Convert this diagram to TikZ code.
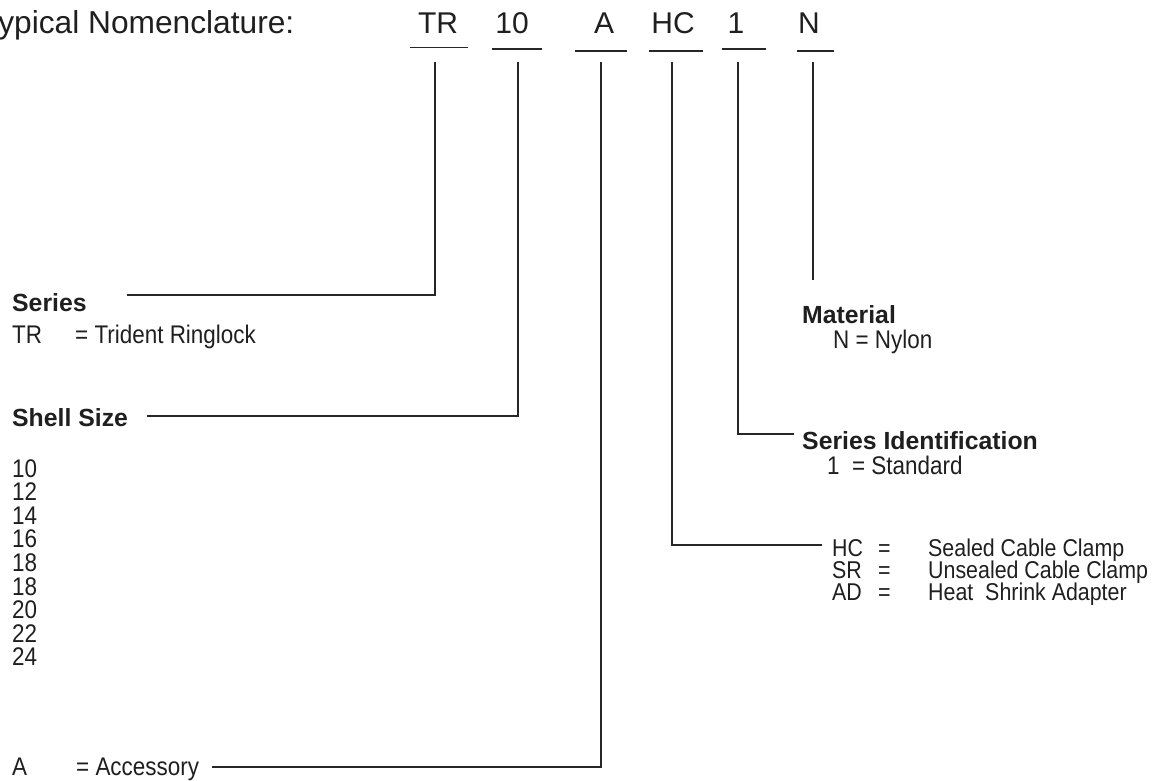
\documentclass[tikz,border=0pt]{standalone}
\usepackage{fontspec}
\setmainfont{Liberation Sans}
\newfontfamily\cond[FakeStretch=0.88]{Liberation Sans}
\begin{document}
\begin{tikzpicture}[x=1pt,y=-1pt,
  lbl/.style={anchor=base west, inner sep=0pt, text=black!88, font=\cond\fontsize{25.5}{30}\selectfont},
  lbs/.style={anchor=base west, inner sep=0pt, text=black!88, font=\cond\fontsize{24.3}{27}\selectfont},
  hdr/.style={anchor=base west, inner sep=0pt, text=black!88, font=\bfseries\fontsize{24.8}{29}\selectfont},
  codetxt/.style={anchor=base, inner sep=0pt, text=black!88, font=\fontsize{30}{36}\selectfont},
  ln/.style={line width=1.2pt, draw=black!85},
  ulthin/.style={line width=1pt, draw=black!85},
  ulthick/.style={line width=2pt, draw=black!85}]
\useasboundingbox (0,0) rectangle (1154,780);
% title
\node[anchor=base west, inner sep=0pt, text=black!88, font=\fontsize{31.7}{38}\selectfont] (title) at (-19.5,33) {Typical Nomenclature:};
% codes
\node[codetxt] (cTR) at (438,33) {TR};
\node[codetxt] (c10) at (512,33) {10};
\node[codetxt] (cA) at (604,33) {A};
\node[codetxt] (cHC) at (673,33) {HC};
\node[codetxt] (c1) at (736,33) {1};
\node[codetxt] (cN) at (809,33) {N};
% underlines
\draw[ulthin] (410,47) -- (468,47);
\draw[ulthick] (492,49) -- (542,49);
\draw[ulthick] (575,51) -- (627,51);
\draw[ulthick] (649,51) -- (703,51);
\draw[ulthick] (722,49) -- (766,49);
\draw[ulthick] (797,51) -- (834,51);
% connector points
\coordinate (trA) at (435,62);  \coordinate (trB) at (435,295); \coordinate (trC) at (127,295);
\coordinate (szA) at (518,62);  \coordinate (szB) at (518,416); \coordinate (szC) at (147,416);
\coordinate (acA) at (601,62);  \coordinate (acB) at (601,767); \coordinate (acC) at (212,767);
\coordinate (hcA) at (672,62);  \coordinate (hcB) at (672,545); \coordinate (hcC) at (822,545);
\coordinate (idA) at (738,62);  \coordinate (idB) at (738,434); \coordinate (idC) at (794,434);
\coordinate (nA) at (813,62);   \coordinate (nB) at (813,280);
\draw[ln] (trA) -- (trB) -- (trC);
\draw[ln] (szA) -- (szB) -- (szC);
\draw[ln] (acA) -- (acB) -- (acC);
\draw[ln] (hcA) -- (hcB) -- (hcC);
\draw[ln] (idA) -- (idB) -- (idC);
\draw[line width=2.6pt, draw=black!85] (nA) -- (nB);
% left texts
\node[hdr] (series) at (12,311) {Series};
\node[lbl] (trk) at (12,343) {TR};
\node[lbl] (trv) at (75,343) {= Trident Ringlock};
\node[hdr] (shell) at (12,426) {Shell Size};
\foreach \v [count=\i from 0] in {10,12,14,16,18,18,20,22,24}
  \node[lbl] (sz\i) at (12,{477+23.6*\i}) {\v};
\node[lbl] (acck) at (12,775) {A};
\node[lbl] (accv) at (76,775) {= Accessory};
% right texts
\node[hdr] (mat) at (802,323) {Material};
\node[lbl] (matv) at (833,348) {N = Nylon};
\node[hdr] (sid) at (802,449) {Series Identification};
\node[lbl] (sidv) at (827,474) {1\ \ = Standard};
\node[lbs] (hck) at (832,556) {HC};
\node[lbs] (hce) at (878,556) {=};
\node[lbs] (hcv) at (928,556) {Sealed Cable Clamp};
\node[lbs] (srk) at (832,578) {SR};
\node[lbs] (sre) at (878,578) {=};
\node[lbs] (srv) at (928,578) {Unsealed Cable Clamp};
\node[lbs] (adk) at (832,600) {AD};
\node[lbs] (ade) at (878,600) {=};
\node[lbs] (adv) at (928,600) {Heat\ \ Shrink Adapter};
\end{tikzpicture}
\end{document}
